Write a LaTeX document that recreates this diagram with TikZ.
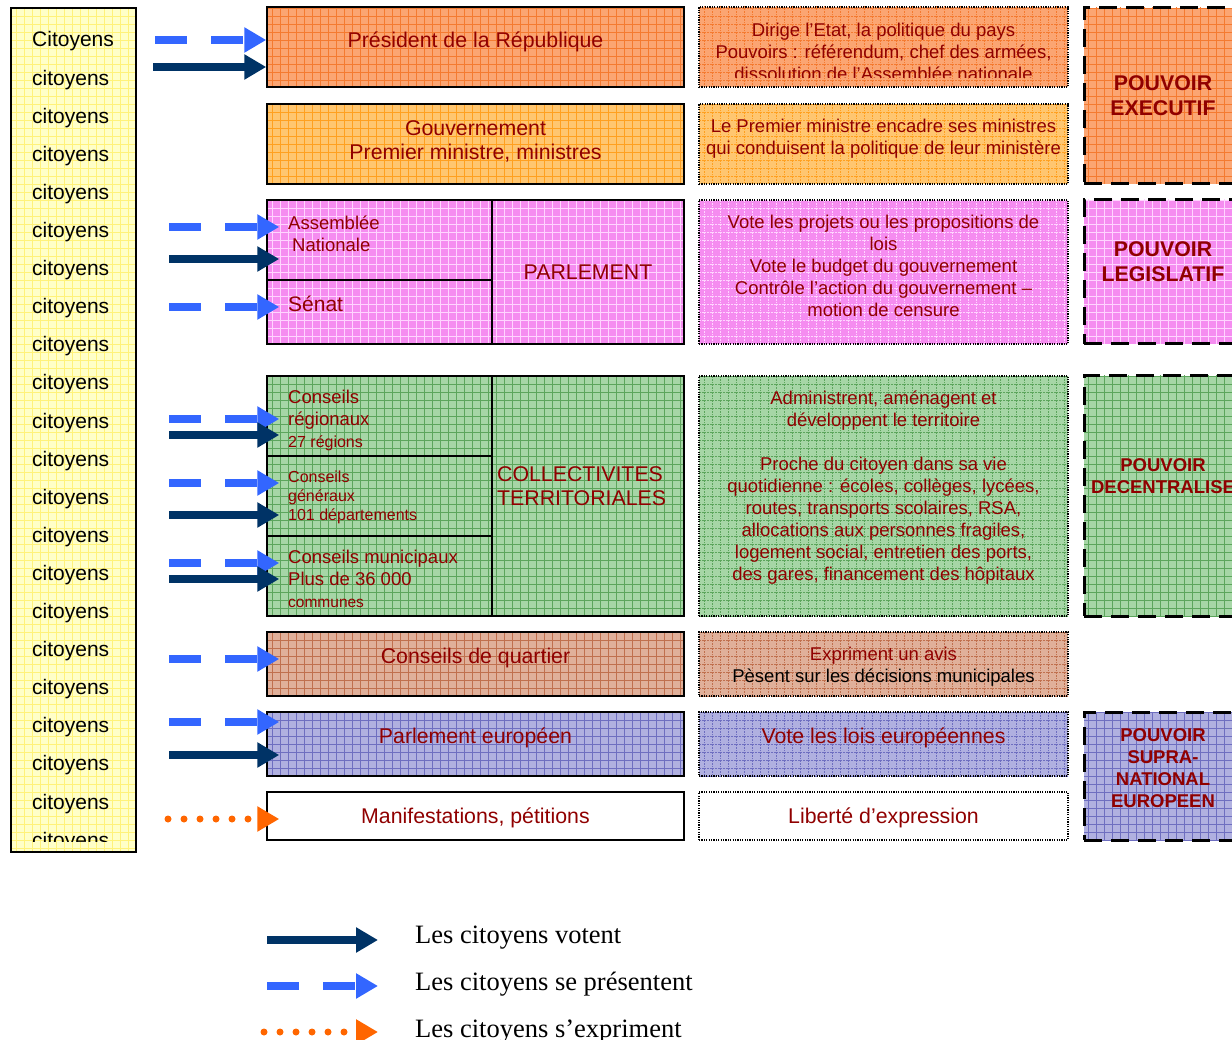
\documentclass[tikz,border=0pt]{standalone}
\usepackage{fontspec}
\setmainfont{Liberation Sans}
\newfontfamily\legende{Liberation Serif}
\usetikzlibrary{arrows.meta,patterns.meta}
\definecolor{jaune}{HTML}{FFFFC8}
\definecolor{jaunetrame}{HTML}{FFF27A}
\definecolor{presorange}{HTML}{FBA572}
\definecolor{presorangetrame}{HTML}{F47A30}
\definecolor{gouvorange}{HTML}{FFC670}
\definecolor{gouvorangetrame}{HTML}{FFA020}
\definecolor{rose}{HTML}{F58CF0}
\definecolor{rosetrame}{HTML}{FFD4FF}
\definecolor{vert}{HTML}{A6D6A6}
\definecolor{verttrame}{HTML}{5CA55C}
\definecolor{brun}{HTML}{E0B09A}
\definecolor{bruntrame}{HTML}{C0704E}
\definecolor{violet}{HTML}{B0B0E0}
\definecolor{violettrame}{HTML}{6E6EC0}
\definecolor{rougefonce}{HTML}{900000}
\definecolor{bleunuit}{HTML}{003366}
\definecolor{bleuvif}{HTML}{3366FF}
\definecolor{orangevif}{HTML}{FF6600}

\tikzset{
	trame/.style={preaction={fill=#1},pattern={Hatch[angle=0,distance=8pt,line width=.8pt]},pattern color=#1trame},
	organe/.style={draw=black,line width=1.5pt,inner sep=0pt,minimum width=417pt},
	sousorgane/.style={organe,minimum width=225pt},
	role/.style={draw=black,dash pattern=on 1.2pt off 1.2pt,line width=1.2pt,inner sep=0pt,minimum width=369pt},
	pouvoir/.style={draw=black,dash pattern=on 18pt off 9pt,line width=3pt,inner sep=0pt,minimum width=158pt},
	texte/.style={inner sep=0pt,text=rougefonce,align=center,font=\fontsize{21.3}{24}\selectfont},
	petittexte/.style={texte,font=\fontsize{18.5}{22}\selectfont},
	soustexte/.style={texte,anchor=west,align=left,font=\fontsize{18.5}{22}\selectfont},
	pouvoirtexte/.style={texte,font=\bfseries\fontsize{21.3}{25}\selectfont},
	citoyen/.style={anchor=base west,inner sep=0pt,font=\fontsize{21}{25}\selectfont},
	vote/.style={-{Triangle[length=22pt,width=24pt]},line width=8pt,draw=bleunuit},
	candidat/.style={vote,draw=bleuvif,dash pattern=on 32pt off 24pt},
	expression/.style={-{Triangle[length=22pt,width=24pt]},line width=7pt,draw=orangevif,line cap=round,dash pattern=on 0pt off 16pt},
	legendetexte/.style={anchor=base west,inner sep=0pt,font=\legende\fontsize{26.5}{30}\selectfont}
}

\begin{document}
\begin{tikzpicture}[x=1pt,y=-1pt]
	\useasboundingbox (0,0) rectangle (1232,1040);

	% colonne des citoyens
	\node[draw=black,line width=1.5pt,trame=jaune,inner sep=0pt,minimum width=125pt,minimum height=844pt] (peuple) at (73.5,430) {};
	\begin{scope}
		\clip (11,8) rectangle (136,841);
		\node[citoyen] (cit1) at (32,47) {Citoyens};
		\foreach \k in {2,...,22}
			\node[citoyen] (cit\k) at (32,{47+38.1*(\k-1)}) {citoyens};
	\end{scope}

	% institutions
	\node[organe,trame=presorange,minimum height=80pt] (pres) at (475.5,47) {};
	\node[texte] (tpres) at (475.5,42) {Président de la République};
	\node[organe,trame=gouvorange,minimum height=80pt] (gouv) at (475.5,144) {};
	\node[texte] (tgouv) at (475.5,141) {Gouvernement\\Premier ministre, ministres};
	\node[sousorgane,trame=rose,minimum height=80pt] (assemblee) at (379.5,240) {};
	\node[soustexte] (tassemblee) at (288,234) {Assemblée\\\hspace*{4pt}Nationale};
	\node[sousorgane,trame=rose,minimum height=64pt] (senat) at (379.5,312) {};
	\node[soustexte,font=\fontsize{21}{25}\selectfont] (tsenat) at (288,304) {Sénat};
	\node[organe,trame=rose,minimum width=192pt,minimum height=144pt] (parlement) at (588,272) {};
	\node[texte] (tparlement) at (588,272) {PARLEMENT};
	\node[sousorgane,trame=vert,minimum height=80pt] (regions) at (379.5,416) {};
	\node[soustexte] (tregions) at (288,420) {Conseils\\régionaux\\{\fontsize{16}{19}\selectfont 27 régions}};
	\node[sousorgane,trame=vert,minimum height=80pt] (departements) at (379.5,496) {};
	\node[soustexte,font=\fontsize{16}{19}\selectfont] (tdepartements) at (288,497) {Conseils\\généraux\\101 départements};
	\node[sousorgane,trame=vert,minimum height=80pt] (communes) at (379.5,576) {};
	\node[soustexte] (tcommunes) at (288,579) {Conseils municipaux\\Plus de 36 000\\{\fontsize{15.5}{18}\selectfont communes}};
	\node[organe,trame=vert,minimum width=192pt,minimum height=240pt] (collectivites) at (588,496) {};
	\node[soustexte,font=\fontsize{21.3}{24}\selectfont] (tcollectivites) at (497,486) {COLLECTIVITES\\TERRITORIALES};
	\node[organe,trame=brun,minimum height=64pt] (quartier) at (475.5,664) {};
	\node[texte] (tquartier) at (475.5,658) {Conseils de quartier};
	\node[organe,trame=violet,minimum height=64pt] (europe) at (475.5,744) {};
	\node[texte] (teurope) at (475.5,738) {Parlement européen};
	\node[organe,fill=white,minimum height=48pt] (manif) at (475.5,816) {};
	\node[texte] (tmanif) at (475.5,818) {Manifestations, pétitions};

	% roles
	\node[role,trame=presorange,minimum height=80pt] (rpres) at (883.5,47) {};
	\begin{scope}
		\clip (699,7) rectangle (1068,78);
		\node[petittexte] (trpres) at (883.5,52) {Dirige l’Etat, la politique du pays\\Pouvoirs : référendum, chef des armées,\\dissolution de l’Assemblée nationale};
	\end{scope}
	\node[role,trame=gouvorange,minimum height=80pt] (rgouv) at (883.5,144) {};
	\node[petittexte] (trgouv) at (883.5,139) {Le Premier ministre encadre ses ministres\\qui conduisent la politique de leur ministère};
	\node[role,trame=rose,minimum height=144pt] (rparlement) at (883.5,272) {};
	\node[petittexte] (trparlement) at (883.5,266) {Vote les projets ou les propositions de\\lois\\Vote le budget du gouvernement\\Contrôle l’action du gouvernement –\\motion de censure};
	\node[role,trame=vert,minimum height=240pt] (rcollectivites) at (883.5,496) {};
	\node[petittexte] (trcollectivites) at (883.5,488) {Administrent, aménagent et\\développent le territoire\\[22pt]Proche du citoyen dans sa vie\\quotidienne : écoles, collèges, lycées,\\routes, transports scolaires, RSA,\\allocations aux personnes fragiles,\\logement social, entretien des ports,\\des gares, financement des hôpitaux};
	\node[role,trame=brun,minimum height=64pt] (rquartier) at (883.5,664) {};
	\node[petittexte] (trquartier) at (883.5,667) {Expriment un avis\\{\color{black}Pèsent sur les décisions municipales}};
	\node[role,trame=violet,minimum height=64pt] (reurope) at (883.5,744) {};
	\node[texte] (treurope) at (883.5,738) {Vote les lois européennes};
	\node[role,fill=white,minimum height=48pt] (rmanif) at (883.5,816) {};
	\node[texte] (trmanif) at (883.5,818) {Liberté d’expression};

	% pouvoirs
	\node[pouvoir,trame=presorange,minimum height=176pt] (executif) at (1163,96) {};
	\node[pouvoirtexte] (texecutif) at (1163,96) {POUVOIR\\EXECUTIF};
	\node[pouvoir,trame=rose,minimum height=144pt] (legislatif) at (1163,272) {};
	\node[pouvoirtexte] (tlegislatif) at (1163,262) {POUVOIR\\LEGISLATIF};
	\node[pouvoir,trame=vert,minimum height=240pt] (decentralise) at (1163,496) {};
	\node[pouvoirtexte,font=\bfseries\fontsize{18.5}{22}\selectfont] (tdecentralise) at (1163,476) {POUVOIR\\DECENTRALISE};
	\node[pouvoir,trame=violet,minimum height=128pt] (supranational) at (1163,776) {};
	\node[pouvoirtexte,font=\bfseries\fontsize{18.5}{22}\selectfont] (tsupranational) at (1163,768) {POUVOIR\\SUPRA-\\NATIONAL\\EUROPEEN};

	% fleches
	\coordinate (cPres) at (155,40);
	\coordinate (vPres) at (153,67);
	\draw[candidat] (cPres) -- (cPres -| pres.west);
	\draw[vote] (vPres) -- (vPres -| pres.west);
	\coordinate (cAn) at (169,227);
	\coordinate (vAn) at (169,259);
	\coordinate (cSen) at (169,307);
	\draw[candidat] (cAn) -- ([xshift=13pt]cAn -| assemblee.west);
	\draw[vote] (vAn) -- ([xshift=13pt]vAn -| assemblee.west);
	\draw[candidat] (cSen) -- ([xshift=13pt]cSen -| senat.west);
	\coordinate (cReg) at (169,419);
	\coordinate (vReg) at (169,435);
	\coordinate (cDep) at (169,483);
	\coordinate (vDep) at (169,515);
	\coordinate (cCom) at (169,563);
	\coordinate (vCom) at (169,579);
	\draw[candidat] (cReg) -- ([xshift=13pt]cReg -| regions.west);
	\draw[vote] (vReg) -- ([xshift=13pt]vReg -| regions.west);
	\draw[candidat] (cDep) -- ([xshift=13pt]cDep -| departements.west);
	\draw[vote] (vDep) -- ([xshift=13pt]vDep -| departements.west);
	\draw[candidat] (cCom) -- ([xshift=13pt]cCom -| communes.west);
	\draw[vote] (vCom) -- ([xshift=13pt]vCom -| communes.west);
	\coordinate (cQua) at (169,659);
	\coordinate (cEur) at (169,722);
	\coordinate (vEur) at (169,755);
	\coordinate (eMan) at (168,819);
	\draw[candidat] (cQua) -- ([xshift=13pt]cQua -| quartier.west);
	\draw[candidat] (cEur) -- ([xshift=13pt]cEur -| europe.west);
	\draw[vote] (vEur) -- ([xshift=13pt]vEur -| europe.west);
	\draw[expression] (eMan) -- ([xshift=13pt]eMan -| manif.west);

	% legende
	\coordinate (l1a) at (267,940);
	\coordinate (l1b) at (378,940);
	\coordinate (l2a) at (267,986);
	\coordinate (l2b) at (378,986);
	\coordinate (l3a) at (264,1032);
	\coordinate (l3b) at (378,1032);
	\draw[vote] (l1a) -- (l1b);
	\draw[candidat] (l2a) -- (l2b);
	\draw[expression] (l3a) -- (l3b);
	\node[legendetexte] (lvote) at (415,943) {Les citoyens votent};
	\node[legendetexte] (lcandidat) at (415,990) {Les citoyens se présentent};
	\node[legendetexte] (lexpression) at (415,1037) {Les citoyens s’expriment};
\end{tikzpicture}
\end{document}
